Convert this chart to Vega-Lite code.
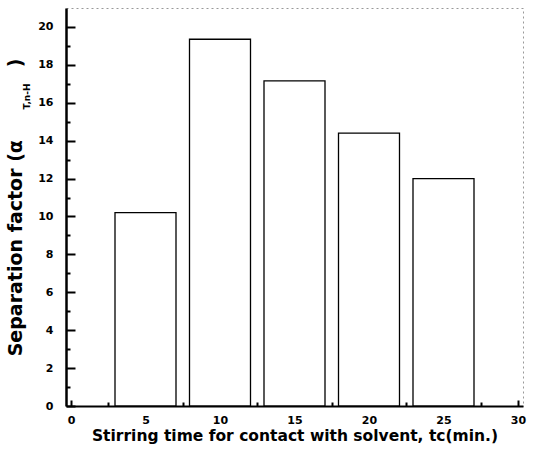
{
  "$schema": "https://vega.github.io/schema/vega-lite/v6.json",
  "width": 457,
  "height": 398,
  "autosize": {"type": "none"},
  "padding": {"left": 66, "top": 8, "right": 12, "bottom": 48},
  "background": "white",
  "config": {
    "view": {"stroke": "#999", "strokeWidth": 1, "strokeDash": [2, 3]},
    "font": "DejaVu Sans"
  },
  "data": {
    "values": [
      {"time": 5, "factor": 10.2},
      {"time": 10, "factor": 19.35},
      {"time": 15, "factor": 17.15},
      {"time": 20, "factor": 14.4},
      {"time": 25, "factor": 12.0}
    ]
  },
  "layer": [
    {
      "mark": {"type": "bar", "size": 61, "fill": "white", "stroke": "black", "strokeWidth": 1.3},
      "encoding": {
        "x": {
          "field": "time",
          "type": "quantitative",
          "scale": {"domain": [0, 30], "nice": false, "zero": false},
          "axis": {
            "values": [0, 2.5, 5, 7.5, 10, 12.5, 15, 17.5, 20, 22.5, 25, 27.5, 30],
            "labelExpr": "datum.value % 5 === 0 ? datum.label : ''",
            "tickSize": {"condition": {"test": "datum.value % 5 === 0", "value": -6}, "value": -4},
            "labelPadding": 14,
            "grid": false,
            "domainColor": "black",
            "domainWidth": 2,
            "tickColor": "black",
            "tickWidth": 2,
            "labelFont": "DejaVu Sans",
            "labelFontWeight": "bold",
            "labelFontSize": 11,
            "labelColor": "black",
            "title": "Stirring time for contact with solvent, tc(min.)",
            "titleFont": "DejaVu Sans",
            "titleFontWeight": "bold",
            "titleFontSize": 15.5,
            "titleColor": "black",
            "titlePadding": 3
          }
        },
        "y": {
          "field": "factor",
          "type": "quantitative",
          "scale": {"domain": [0, 21], "nice": false},
          "axis": {
            "values": [0, 1, 2, 3, 4, 5, 6, 7, 8, 9, 10, 11, 12, 13, 14, 15, 16, 17, 18, 19, 20],
            "labelExpr": "datum.value % 2 === 0 ? datum.label : ''",
            "tickSize": {"condition": {"test": "datum.value % 2 === 0", "value": -9}, "value": -4},
            "labelPadding": 22,
            "grid": false,
            "domainColor": "black",
            "domainWidth": 2.5,
            "tickColor": "black",
            "tickWidth": 2,
            "labelFont": "DejaVu Sans",
            "labelFontWeight": "bold",
            "labelFontSize": 11,
            "labelColor": "black",
            "title": "Separation factor (α\u00a0\u00a0\u00a0\u00a0\u00a0\u00a0\u00a0\u00a0\u00a0\u00a0\u00a0)",
            "titleFont": "DejaVu Sans",
            "titleFontWeight": "bold",
            "titleFontSize": 19,
            "titleColor": "black",
            "titlePadding": 12
          }
        }
      }
    },
    {
      "mark": {"type": "rule", "opacity": 0},
      "encoding": {
        "y": {
          "field": "factor",
          "type": "quantitative",
          "scale": {"domain": [0, 21], "nice": false},
          "axis": {
            "orient": "right",
            "domain": false,
            "ticks": false,
            "labels": false,
            "grid": false,
            "title": "T,n-H",
            "titleFont": "DejaVu Sans",
            "titleFontWeight": "bold",
            "titleFontSize": 9,
            "titleColor": "black",
            "titleAngle": 270,
            "titleAlign": "center",
            "titleBaseline": "middle",
            "titleX": -497,
            "titleY": 88
          }
        }
      }
    }
  ],
  "resolve": {"scale": {"y": "independent"}, "axis": {"y": "independent"}}
}
